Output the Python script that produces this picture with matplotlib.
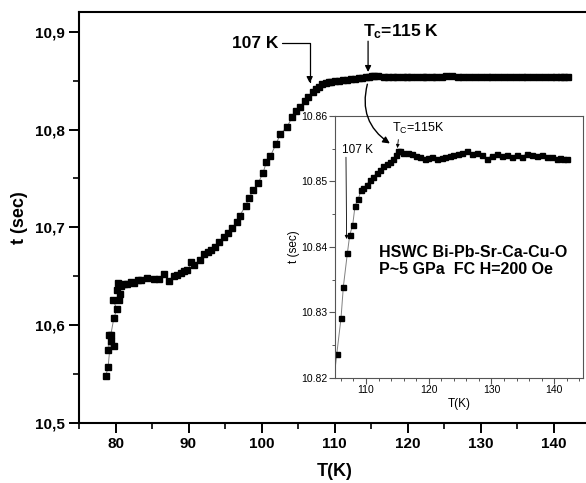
import matplotlib
matplotlib.use("Agg")
import matplotlib.pyplot as plt
from matplotlib.ticker import MultipleLocator, FixedLocator

plt.rcParams['font.family'] = ['Liberation Sans', 'DejaVu Sans']
plt.rcParams['mathtext.fontset'] = 'custom'
plt.rcParams['mathtext.rm'] = 'Liberation Sans'
plt.rcParams['mathtext.bf'] = 'Liberation Sans:bold'
plt.rcParams['mathtext.it'] = 'Liberation Sans:italic'

# ---- data (T in K, t in sec) ----
T_vals = [78.67, 78.99, 79.32, 79.81, 78.99, 79.08, 79.36, 79.77, 80.18, 79.67,
          80.49, 80.59, 80.18, 80.36, 80.82, 81.18, 81.51, 82.10, 82.51, 83.10,
          83.56, 84.33, 85.25, 85.93, 86.66, 87.30, 88.03, 88.49, 88.95, 89.40,
          89.86, 90.41, 90.73, 91.55, 92.14, 92.68, 93.05, 93.60, 94.19, 94.84,
          95.42, 95.97, 96.58, 97.03, 97.81, 98.30, 98.85, 99.53, 100.22, 100.68,
          101.23, 101.96, 102.60, 103.51, 104.19, 104.79,
          105.33, 106.01, 106.38, 107.02, 107.40, 107.88, 108.25, 108.77, 109.20, 109.57,
          110.10, 110.64, 111.16, 111.70, 112.23, 112.76, 113.30, 113.83, 114.35, 114.78,
          115.15, 115.42, 115.95, 116.75, 117.29, 117.97, 118.60, 119.40, 119.94, 120.47,
          121.27, 122.07, 122.60, 123.40, 123.90, 124.72, 125.30, 126.06, 126.86, 127.66,
          128.45, 129.25, 130.05, 130.85, 131.64, 132.44, 133.24, 134.04, 134.83, 135.63,
          136.43, 137.23, 138.02, 138.82, 139.62, 140.41, 141.00, 141.48, 142.00]
t_vals = [10.548, 10.557, 10.584, 10.579, 10.574, 10.590, 10.590, 10.607, 10.616, 10.626,
          10.626, 10.632, 10.636, 10.643, 10.640, 10.642, 10.642, 10.644, 10.643, 10.646,
          10.646, 10.648, 10.647, 10.647, 10.652, 10.645, 10.650, 10.651, 10.653, 10.655,
          10.656, 10.664, 10.661, 10.667, 10.673, 10.675, 10.677, 10.680, 10.685, 10.690,
          10.694, 10.699, 10.705, 10.712, 10.722, 10.730, 10.738, 10.745, 10.756, 10.767,
          10.773, 10.785, 10.7955, 10.803, 10.8126, 10.819,
          10.8236, 10.8291, 10.8339, 10.8390, 10.8418, 10.8434, 10.8463, 10.8473, 10.8487, 10.8490,
          10.8495, 10.8502, 10.8507, 10.8513, 10.8518, 10.8523, 10.8527, 10.8530, 10.8534, 10.8540,
          10.8546, 10.8547, 10.8544, 10.8543, 10.8542, 10.8539, 10.8538, 10.8535, 10.8536, 10.8538,
          10.8535, 10.8536, 10.8538, 10.8539, 10.8540, 10.8542, 10.8544, 10.8546, 10.8542, 10.8543,
          10.8540, 10.8535, 10.8539, 10.8542, 10.8539, 10.8540, 10.8537, 10.8540, 10.8538, 10.8542,
          10.8540, 10.8539, 10.8540, 10.8538, 10.8537, 10.8535, 10.8536, 10.8534, 10.8534]

main_xticks = [80, 90, 100, 110, 120, 130, 140]
main_yticks = [10.5, 10.6, 10.7, 10.8, 10.9]
main_ylabels = ['10,5', '10,6', '10,7', '10,8', '10,9']
inset_xticks = [110, 120, 130, 140]
inset_yticks = [10.82, 10.83, 10.84, 10.85, 10.86]
inset_ylabels = ['10.82', '10.83', '10.84', '10.85', '10.86']

W, H = 586, 483
fig = plt.figure(figsize=(W / 100, H / 100), dpi=100)

# ---- main axes ----
ax = fig.add_axes([79 / W, (H - 422.7) / H, 511 / W, (422.7 - 12) / H])
ax.plot(T_vals, t_vals, color='#808080', lw=0.7, zorder=1)
ax.plot(T_vals, t_vals, ls='none', marker='s', ms=3.7, mfc='black', mec='black', zorder=2)
ax.set_xlim(75, 145)
ax.set_ylim(10.5, 10.9204)
ax.xaxis.set_major_locator(FixedLocator(main_xticks))
ax.xaxis.set_minor_locator(MultipleLocator(5))
ax.set_yticks(main_yticks)
ax.set_yticklabels(main_ylabels)
ax.yaxis.set_minor_locator(MultipleLocator(0.05))
for s in ax.spines.values():
    s.set_linewidth(1.5)
ax.spines['right'].set_visible(False)
ax.tick_params(which='major', direction='out', length=7, width=1.4, labelsize=11, pad=3)
ax.tick_params(which='minor', direction='out', length=4, width=1.2)
for lab in ax.get_xticklabels() + ax.get_yticklabels():
    lab.set_fontweight('bold')
ax.set_xlabel('T(K)', fontsize=13, fontweight='bold', labelpad=9)
ax.set_ylabel('t (sec)', fontsize=13, fontweight='bold', labelpad=5)

# annotations on main axes
ax.text(102.3, 10.8886, '107 K', fontsize=12.5, fontweight='bold', ha='right', va='center')
ax.annotate('', xy=(106.6, 10.8477), xytext=(102.75, 10.8886),
            arrowprops=dict(arrowstyle='-|>', color='black', lw=0.9, mutation_scale=9,
                            shrinkA=0, shrinkB=0,
                            connectionstyle='angle,angleA=0,angleB=90,rad=0'))
ax.text(113.85, 10.8958, r'T$_\mathbf{c}$=115 K', fontsize=12.5, fontweight='bold',
        ha='left', va='baseline')
ax.annotate('', xy=(114.6, 10.859), xytext=(114.6, 10.8905),
            arrowprops=dict(arrowstyle='-|>', color='black', lw=0.9, mutation_scale=9,
                            shrinkA=0, shrinkB=0))

# ---- inset axes ----
ix0, ix1, iy0, iy1 = 335, 582.7, 116, 377.7
ins = fig.add_axes([ix0 / W, (H - iy1) / H, (ix1 - ix0) / W, (iy1 - iy0) / H])
ins.plot(T_vals, t_vals, color='#808080', lw=0.7, zorder=1)
ins.plot(T_vals, t_vals, ls='none', marker='s', ms=3.6, mfc='black', mec='black', zorder=2)
ins.set_xlim(105.05, 144.55)
ins.set_ylim(10.82, 10.86)
ins.xaxis.set_major_locator(FixedLocator(inset_xticks))
ins.xaxis.set_minor_locator(MultipleLocator(2))
ins.set_yticks(inset_yticks)
ins.set_yticklabels(inset_ylabels)
ins.yaxis.set_minor_locator(MultipleLocator(0.005))
for s in ins.spines.values():
    s.set_linewidth(0.8)
    s.set_color('#555555')
narrow = ['Liberation Sans Narrow', 'Liberation Sans']
ins.tick_params(which='major', direction='out', length=4, width=0.8, labelsize=7.5, pad=1.5,
                color='#555555')
ins.tick_params(which='minor', direction='out', length=2.5, width=0.7, color='#555555')
for lab in ins.get_xticklabels() + ins.get_yticklabels():
    lab.set_family(narrow)
ins.set_xlabel('T(K)', fontsize=8.5, family=narrow, labelpad=2)
ins.set_ylabel('t (sec)', fontsize=8.5, family=narrow, labelpad=1)

# curved arrow from the main curve into the inset (drawn on top of inset)
ins.annotate('', xy=(113.8, 10.8558), xytext=(114.5, 10.8465), textcoords=ax.transData,
             annotation_clip=False,
             arrowprops=dict(arrowstyle='-|>', color='black', lw=1.0, mutation_scale=10,
                             shrinkA=0, shrinkB=0, connectionstyle='arc3,rad=0.35'))

ins.text(0.178, 0.48, 'HSWC Bi-Pb-Sr-Ca-Cu-O', transform=ins.transAxes, fontsize=11.5,
         fontweight='bold', ha='left', va='center')
ins.text(0.178, 0.412, 'P~5 GPa  FC H=200 Oe', transform=ins.transAxes, fontsize=11.5,
         fontweight='bold', ha='left', va='center')
ins.text(114.15, 10.8581, r'T$_\mathregular{C}$=115K', fontsize=9, family=narrow,
         ha='left', va='center')
ins.annotate('', xy=(115.0, 10.8551), xytext=(115.15, 10.8564),
             arrowprops=dict(arrowstyle='-|>', color='black', lw=0.6, mutation_scale=5,
                             shrinkA=0, shrinkB=0))
ins.text(106.1, 10.8548, '107 K', fontsize=8.5, family=narrow, ha='left', va='center')
ins.annotate('', xy=(106.9, 10.8412), xytext=(106.8, 10.8537),
             arrowprops=dict(arrowstyle='-|>', color='black', lw=0.6, mutation_scale=5,
                             shrinkA=0, shrinkB=0))

fig.savefig('out.png', dpi=100)
